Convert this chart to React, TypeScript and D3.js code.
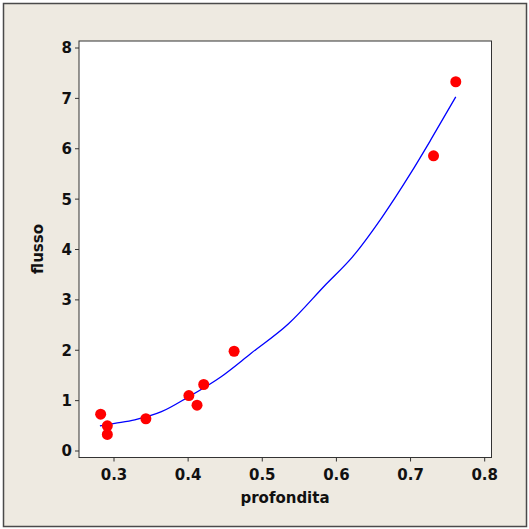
import React from "react";
import * as d3 from "d3";

const depthValues = [0.282, 0.291, 0.291, 0.343, 0.401, 0.412, 0.421, 0.462, 0.731, 0.761];
const flowValues = [0.73, 0.5, 0.33, 0.64, 1.1, 0.91, 1.32, 1.98, 5.86, 7.33];

const fitDepth = [0.281, 0.301, 0.328, 0.364, 0.4, 0.444, 0.485, 0.535, 0.586, 0.622, 0.661, 0.7, 0.727, 0.761];
const fitFlow = [0.5, 0.55, 0.62, 0.78, 1.07, 1.47, 1.94, 2.52, 3.31, 3.86, 4.63, 5.51, 6.17, 7.03];

const xTicks = [0.3, 0.4, 0.5, 0.6, 0.7, 0.8];
const yTicks = [0, 1, 2, 3, 4, 5, 6, 7, 8];

const W = 529;
const H = 529;
const left = 79;
const right = 491.5;
const top = 41;
const bottom = 457.5;

export default function App() {
  const x = d3.scaleLinear().domain([0.3, 0.8]).range([114, 484.7]);
  const y = d3.scaleLinear().domain([0, 8]).range([451, 48]);
  const line = d3
    .line<number>()
    .x((_, i) => x(fitDepth[i]))
    .y((d) => y(d))
    .curve(d3.curveMonotoneX);
  const font = "'DejaVu Sans', Verdana, sans-serif";
  return (
    <svg
      width={W}
      height={H}
      style={{ position: "absolute", left: 0, top: 0, background: "#fff" }}
      fontFamily={font}
    >
      <rect x={3.5} y={3.5} width={523} height={523} fill="#EEEAE1" stroke="#4a4a4a" strokeWidth={1.5} />
      <rect x={left} y={top} width={right - left} height={bottom - top} fill="#fff" stroke="#333" strokeWidth={1} />
      {yTicks.map((t) => (
        <g key={"y" + t}>
          <line x1={left - 4} x2={left} y1={y(t)} y2={y(t)} stroke="#333" />
          <text x={72} y={y(t)} dy="0.36em" textAnchor="end" fontSize={15} fontWeight="bold" fill="#111">
            {t}
          </text>
        </g>
      ))}
      {xTicks.map((t) => (
        <g key={"x" + t}>
          <line x1={x(t)} x2={x(t)} y1={bottom} y2={bottom + 4} stroke="#333" />
          <text x={x(t)} y={479.5} textAnchor="middle" fontSize={15} fontWeight="bold" fill="#111">
            {d3.format(".1f")(t)}
          </text>
        </g>
      ))}
      <path d={line(fitFlow) || ""} fill="none" stroke="#0000FF" strokeWidth={1.3} />
      {depthValues.map((d, i) => (
        <circle key={i} cx={x(d)} cy={y(flowValues[i])} r={5.5} fill="#FF0000" />
      ))}
      <text x={285} y={503} textAnchor="middle" fontSize={15} fontWeight="bold" fill="#111">
        profondita
      </text>
      <text
        transform={`translate(43, 249) rotate(-90)`}
        textAnchor="middle"
        fontSize={15}
        fontWeight="bold"
        fill="#111"
      >
        flusso
      </text>
    </svg>
  );
}
